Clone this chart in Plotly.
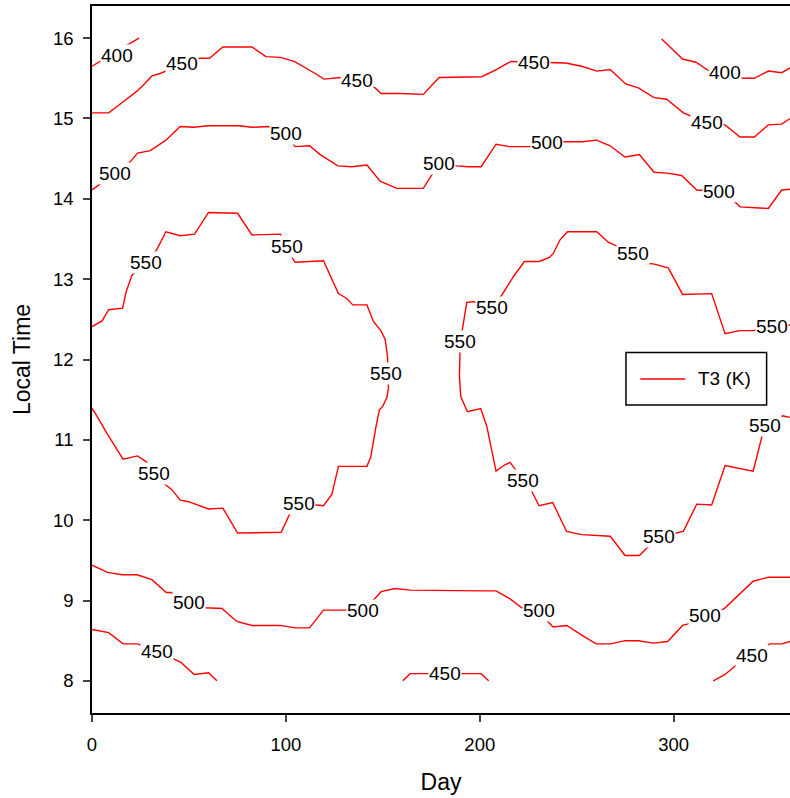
import plotly.graph_objects as go

# ---- contour lines of T3 (K): day, local time ----
c400_left_day = [0, 21.4, 24.2]
c400_left_time = [15.65, 15.95, 16.0]

c400_right_day = [293.8, 304.6, 311.5, 317.8, 326.5, 335.9, 341.6, 348.8, 355.7, 360.0]
c400_right_time = [15.99, 15.74, 15.70, 15.60, 15.57, 15.50, 15.50, 15.59, 15.57, 15.63]

c450_top_day = [0, 8.6, 14.6, 23.2, 27.0, 30.9, 35.2, 46.4, 55.5, 60.6, 67.5, 82.5, 89.7, 97.1,
                104.3, 111.7, 115.1, 119.7, 128.0, 136.9, 146.0, 149.1, 158.9, 170.9, 179.0,
                201.0, 208.8, 216.0, 228.0, 237.1, 244.3, 252.6, 260.3, 267.2, 275.3, 281.8,
                289.9, 296.4, 305.0, 317.0, 326.5, 334.2, 341.6, 348.8, 355.7, 360.0]
c450_top_time = [15.07, 15.07, 15.18, 15.34, 15.43, 15.53, 15.56, 15.68, 15.75, 15.75, 15.89, 15.89,
                 15.77, 15.76, 15.71, 15.61, 15.56, 15.49, 15.51, 15.47, 15.38, 15.31, 15.31,
                 15.30, 15.51, 15.52, 15.61, 15.71, 15.70, 15.69, 15.69, 15.65, 15.59, 15.61,
                 15.43, 15.38, 15.26, 15.24, 15.07, 14.95, 14.92, 14.77, 14.77, 14.92, 14.93, 15.00]

c500_top_day = [0, 1.2, 12.0, 19.7, 23.5, 30.1, 38.1, 45.5, 52.4, 60.1, 75.6, 82.5, 91.0, 99.8,
                103.6, 104.8, 112.2, 117.7, 126.8, 134.0, 141.8, 148.6, 157.2, 170.9, 175.3,
                179.2, 188.2, 194.1, 200.7, 208.4, 215.3, 225.9, 234.9, 244.0, 252.9, 260.3,
                267.2, 274.9, 282.3, 289.9, 296.7, 304.1, 311.9, 323.5, 332.1, 334.2, 348.8,
                355.7, 360.0]
c500_top_time = [14.11, 14.13, 14.32, 14.46, 14.57, 14.60, 14.73, 14.90, 14.89, 14.91, 14.91, 14.89,
                 14.90, 14.81, 14.68, 14.65, 14.66, 14.55, 14.41, 14.40, 14.42, 14.22, 14.13,
                 14.13, 14.30, 14.44, 14.41, 14.40, 14.40, 14.68, 14.65, 14.65, 14.70, 14.71,
                 14.71, 14.73, 14.66, 14.52, 14.55, 14.33, 14.32, 14.29, 14.11, 14.09, 13.95,
                 13.90, 13.88, 14.11, 14.12]

c550_left_day = [0, 5.2, 8.6, 15.8, 17.7, 20.6, 28.0, 33.5, 38.1, 45.5, 52.9, 60.1, 75.1, 79.9,
                 82.5, 97.1, 100.5, 103.9, 104.8, 119.4, 123.7, 127.1, 131.4, 134.5, 141.8,
                 145.2, 149.0, 151.2, 152.4, 152.6, 152.9, 152.1, 150.0, 148.2, 146.5, 143.8,
                 141.8, 127.1, 125.4, 123.7, 119.4, 116.0, 106.9, 102.2, 97.6, 75.1, 67.5,
                 60.1, 54.1, 49.8, 45.5, 41.2, 36.9, 31.8, 28.4, 23.5, 16.0, 11.1, 7.7, 1.2, 0]
c550_left_time = [12.41, 12.48, 12.62, 12.64, 12.85, 13.05, 13.21, 13.37, 13.59, 13.54, 13.56,
                  13.83, 13.82, 13.64, 13.55, 13.56, 13.41, 13.24, 13.21, 13.23, 12.99, 12.82,
                  12.76, 12.68, 12.68, 12.47, 12.36, 12.25, 12.04, 11.82, 11.64, 11.53, 11.42,
                  11.37, 11.17, 10.79, 10.67, 10.67, 10.48, 10.32, 10.18, 10.19, 10.21, 10.09,
                  9.85, 9.84, 10.15, 10.14, 10.19, 10.23, 10.25, 10.38, 10.46, 10.58, 10.72,
                  10.80, 10.76, 10.94, 11.08, 11.35, 11.39]

c550_right_day = [360.0, 350.5, 341.0, 334.2, 326.5, 319.6, 304.6, 297.2, 289.5, 282.3, 278.9,
                  268.6, 266.3, 260.3, 245.2, 241.4, 237.9, 235.9, 230.6, 223.0, 217.3, 211.3,
                  206.2, 196.7, 193.3, 191.2, 189.8, 189.8, 189.5, 190.2, 193.6, 200.5, 203.6,
                  208.4, 213.0, 215.6, 222.2, 226.8, 230.6, 237.6, 244.8, 252.6, 267.2, 268.6,
                  274.9, 282.3, 286.1, 292.6, 301.2, 305.0, 311.9, 319.6, 326.5, 341.0, 345.4,
                  347.1, 356.2, 360.0]
c550_right_time = [12.43, 12.41, 12.36, 12.36, 12.32, 12.82, 12.81, 13.14, 13.19, 13.20, 13.32,
                   13.44, 13.46, 13.59, 13.59, 13.49, 13.32, 13.27, 13.22, 13.22, 13.03, 12.80,
                   12.65, 12.72, 12.71, 12.40, 12.22, 12.09, 11.79, 11.54, 11.35, 11.39, 11.17,
                   10.61, 10.69, 10.72, 10.50, 10.36, 10.18, 10.22, 9.86, 9.82, 9.80, 9.76, 9.56,
                   9.56, 9.65, 9.80, 9.84, 9.86, 10.20, 10.19, 10.68, 10.61, 11.03, 11.18, 11.30,
                   11.28]

c500_low_day = [0, 8.0, 15.5, 23.2, 30.9, 38.3, 40.7, 49.8, 58.4, 67.0, 74.7, 82.5, 97.1, 104.8,
                112.2, 119.4, 130.6, 139.7, 146.5, 149.1, 156.3, 164.0, 201.0, 208.4, 215.6,
                221.7, 230.6, 235.4, 237.9, 244.9, 252.6, 260.0, 267.5, 274.9, 281.8, 289.5,
                296.9, 304.6, 307.5, 316.1, 326.1, 334.5, 341.0, 348.8, 360.0]
c500_low_time = [9.44, 9.35, 9.32, 9.32, 9.26, 9.10, 9.10, 8.98, 8.91, 8.90, 8.74, 8.69, 8.69, 8.66,
                 8.66, 8.88, 8.88, 8.88, 9.04, 9.11, 9.15, 9.13, 9.12, 9.12, 9.02, 8.91, 8.88,
                 8.73, 8.67, 8.69, 8.57, 8.46, 8.46, 8.50, 8.50, 8.47, 8.49, 8.69, 8.71, 8.81,
                 8.90, 9.09, 9.24, 9.29, 9.29]

c450_low_left_day = [0, 8.6, 16.0, 23.5, 33.5, 42.4, 45.9, 52.7, 60.1, 64.4]
c450_low_left_time = [8.64, 8.60, 8.46, 8.46, 8.37, 8.27, 8.23, 8.08, 8.10, 8.0]

c450_low_mid_day = [160.3, 164.1, 174.0, 182.1, 191.5, 200.7, 204.6]
c450_low_mid_time = [8.0, 8.09, 8.09, 8.09, 8.09, 8.09, 8.0]

c450_low_right_day = [320.4, 326.5, 332.5, 340.2, 349.6, 355.7, 360.0]
c450_low_right_time = [8.0, 8.08, 8.20, 8.32, 8.46, 8.46, 8.49]

# ---- contour labels ----
label_day = [12.9, 46.4, 136.9, 228.0, 317.0, 326.5, 12.0, 99.8, 179.2, 234.9, 323.5,
             28.0, 100.5, 151.7, 106.9, 31.8, 278.9, 206.2, 189.8, 222.2, 292.6, 347.1, 350.5,
             49.8, 139.7, 230.6, 316.1, 33.5, 182.1, 340.2]
label_time = [15.79, 15.68, 15.47, 15.70, 14.95, 15.57, 14.32, 14.81, 14.44, 14.70, 14.09,
              13.21, 13.41, 11.82, 10.21, 10.58, 13.32, 12.65, 12.22, 10.50, 9.80, 11.18, 12.41,
              8.98, 8.88, 8.88, 8.81, 8.37, 8.09, 8.32]
label_text = ["400", "450", "450", "450", "450", "400", "500", "500", "500", "500", "500",
              "550", "550", "550", "550", "550", "550", "550", "550", "550", "550", "550", "550",
              "500", "500", "500", "500", "450", "450", "450"]

x_ticks = [0, 100, 200, 300]
y_ticks = [8, 9, 10, 11, 12, 13, 14, 15, 16]
legend_label = "T3 (K)"

FONT = "Arial, Liberation Sans, sans-serif"
RED = "#ff0000"

contours = [
    (c400_left_day, c400_left_time), (c400_right_day, c400_right_time),
    (c450_top_day, c450_top_time), (c500_top_day, c500_top_time),
    (c550_left_day, c550_left_time), (c550_right_day, c550_right_time),
    (c500_low_day, c500_low_time), (c450_low_left_day, c450_low_left_time),
    (c450_low_mid_day, c450_low_mid_time), (c450_low_right_day, c450_low_right_time),
]

fig = go.Figure()
for xs, ys in contours:
    fig.add_trace(go.Scatter(x=xs, y=ys, mode="lines", line=dict(color=RED, width=1.4),
                             showlegend=False, hoverinfo="skip"))

for d, t, s in zip(label_day, label_time, label_text):
    fig.add_annotation(x=d, y=t, xref="x", yref="y", text=s, showarrow=False,
                       bgcolor="white", borderpad=0, font=dict(family=FONT, size=19, color="black"))

# legend box (drawn)
fig.add_shape(type="rect", xref="paper", yref="paper", x0=0.765, x1=0.9665, y0=0.4358, y1=0.510,
              line=dict(color="black", width=1.5), fillcolor="white", layer="above")
fig.add_shape(type="line", xref="paper", yref="paper", x0=0.7855, x1=0.850, y0=0.4725, y1=0.4725,
              line=dict(color=RED, width=1.4), layer="above")
fig.add_annotation(x=0.8658, y=0.4725, xref="paper", yref="paper", text=legend_label,
                   showarrow=False, xanchor="left", yanchor="middle",
                   font=dict(family=FONT, size=19, color="black"))

fig.update_layout(
    width=790, height=798,
    margin=dict(l=92, r=0, t=6, b=85),
    paper_bgcolor="white", plot_bgcolor="white",
    font=dict(family=FONT, size=18.5, color="black"),
    showlegend=False,
    xaxis=dict(range=[0, 360], tickvals=x_ticks, ticks="outside", ticklen=7, tickwidth=1.5,
               showline=True, linecolor="black", linewidth=1.5, mirror=True,
               showgrid=False, zeroline=False, ticklabelstandoff=7,
               title=dict(text="Day", font=dict(size=23), standoff=20)),
    yaxis=dict(range=[7.6, 16.4], tickvals=y_ticks, ticks="outside", ticklen=7, tickwidth=1.5,
               showline=True, linecolor="black", linewidth=1.5, mirror=False,
               showgrid=False, zeroline=False, ticklabelstandoff=6,
               title=dict(text="Local Time", font=dict(size=23), standoff=16)),
)

fig.write_html("out.html")
